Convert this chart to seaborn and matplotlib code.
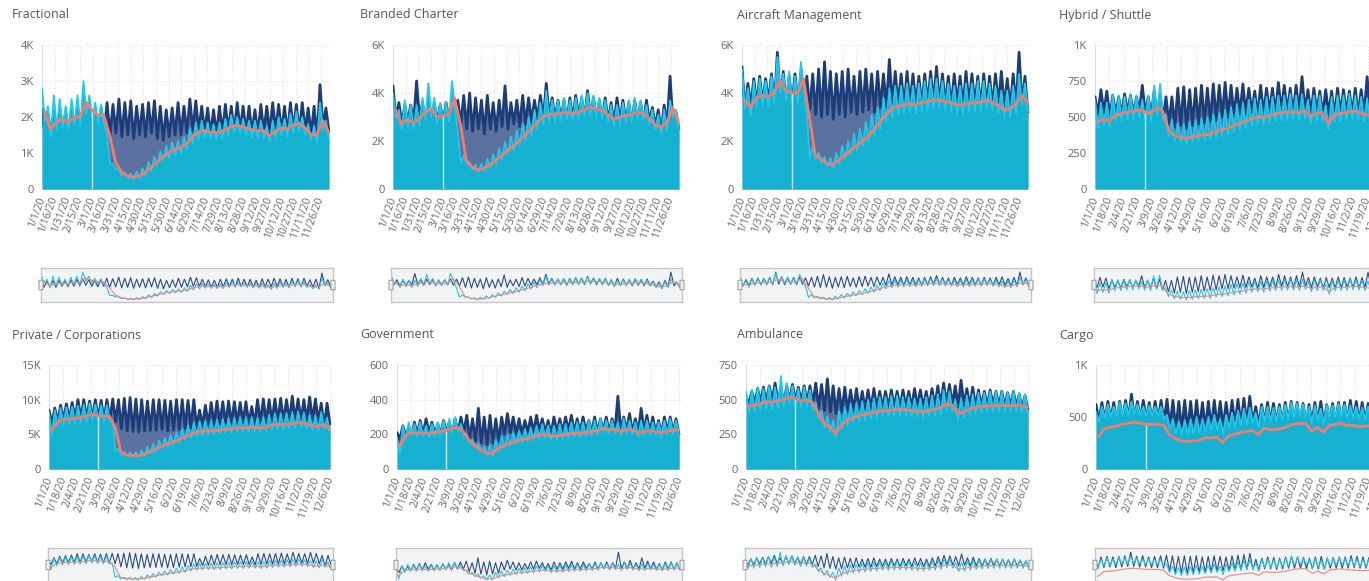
import datetime as dt

import numpy as np
import pandas as pd
import matplotlib
matplotlib.use('Agg')
import matplotlib.pyplot as plt
from matplotlib.patches import FancyBboxPatch
from matplotlib.ticker import FuncFormatter
import seaborn as sns

# ==================== DATA ====================
# weekly samples (week 0 = week of 1/1/20)
# *_hi = weekly peak, *_lo = weekly trough, *_avg = 2020 7-day average

frac_2019_hi = [2200, 2100, 2150, 2200, 2150, 2250, 2300, 2350, 2250, 2200,
                2250, 2400, 2350, 2500, 2400, 2450, 2300, 2350, 2400, 2450,
                2300, 2200, 2250, 2400, 2300, 2500, 2450, 2300, 2250, 2200,
                2300, 2350, 2300, 2400, 2300, 2300, 2200, 2350, 2300, 2400,
                2350, 2300, 2400, 2350, 2400, 2250, 2300, 2900, 2250]
frac_2019_lo = [1500, 1550, 1500, 1600, 1550, 1600, 1650, 1700, 1600, 1550,
                1600, 1500, 1550, 1450, 1500, 1400, 1500, 1450, 1550, 1400,
                1350, 1450, 1500, 1500, 1550, 1600, 1600, 1550, 1500, 1500,
                1550, 1600, 1550, 1600, 1550, 1550, 1500, 1550, 1550, 1600,
                1550, 1500, 1600, 1550, 1600, 1500, 1400, 1700, 1600]
frac_2020_hi = [2800, 2300, 2600, 2500, 2300, 2500, 2600, 3000, 2600, 2400,
                2350, 1500, 700, 550, 450, 420, 480, 580, 750, 900,
                1050, 1200, 1300, 1350, 1450, 1700, 1850, 1900, 1850, 1800,
                1850, 1950, 2050, 2000, 1950, 1900, 1900, 1900, 1750, 1900,
                2000, 1950, 2100, 2150, 2000, 1800, 1750, 2400, 1900]
frac_2020_lo = [1900, 1450, 1650, 1700, 1650, 1750, 1750, 2100, 1950, 1800,
                1800, 700, 550, 380, 300, 270, 300, 380, 500, 650,
                780, 870, 950, 1000, 1100, 1250, 1380, 1420, 1400, 1380,
                1400, 1480, 1550, 1550, 1500, 1450, 1420, 1420, 1300, 1400,
                1500, 1450, 1550, 1600, 1500, 1350, 1300, 1650, 1400]
frac_avg = [2150, 1650, 1850, 1950, 1850, 1980, 2000, 2400, 2200, 2050,
            2050, 1500, 750, 480, 370, 330, 370, 450, 600, 750,
            900, 1000, 1100, 1150, 1250, 1450, 1580, 1620, 1580, 1560,
            1600, 1680, 1760, 1750, 1700, 1650, 1620, 1620, 1480, 1600,
            1700, 1660, 1780, 1820, 1700, 1520, 1500, 1900, 1600]

branded_2019_hi = [4300, 3600, 3500, 3500, 4500, 3600, 3700, 3600, 3500, 3600,
                   3700, 3700, 3900, 4000, 3800, 3700, 3900, 3600, 3700, 4300,
                   3600, 3700, 3900, 3800, 3700, 3900, 4400, 3800, 3700, 3700,
                   3800, 3900, 3800, 4100, 3800, 3700, 3800, 3600, 3800, 3700,
                   3600, 3700, 3600, 3700, 3400, 3300, 3500, 4700, 3200]
branded_2019_lo = [2900, 2700, 2800, 2800, 2900, 2800, 2900, 2800, 2800, 2900,
                   2800, 2700, 2500, 2400, 2500, 2300, 2500, 2400, 2600, 2500,
                   2700, 2600, 2700, 2800, 2900, 2900, 3000, 2900, 2900, 2800,
                   2900, 3000, 2900, 3000, 2900, 2900, 2800, 2700, 2800, 2800,
                   2700, 2800, 2700, 2800, 2600, 2400, 2600, 2700, 2500]
branded_2020_hi = [4000, 3300, 3700, 3500, 3500, 3800, 4400, 3800, 3600, 3600,
                   4500, 2400, 1400, 1100, 1000, 1050, 1250, 1450, 1700, 1950,
                   2200, 2450, 2700, 3000, 3300, 3600, 4100, 3700, 3700, 3800,
                   3700, 3800, 3900, 4000, 3900, 3800, 3700, 3500, 3500, 3600,
                   3700, 3800, 3700, 3500, 3300, 3100, 3300, 3700, 3300]
branded_2020_lo = [2950, 2450, 2600, 2500, 2650, 2900, 3000, 2700, 2750, 2800,
                   3400, 1100, 1050, 800, 700, 750, 900, 1050, 1250, 1450,
                   1600, 1800, 2000, 2250, 2450, 2700, 2800, 2800, 2850, 2900,
                   2850, 2900, 3000, 3050, 3000, 2950, 2800, 2600, 2700, 2750,
                   2800, 2900, 2850, 2650, 2450, 2300, 2450, 3000, 2500]
branded_avg = [3300, 2700, 2900, 2750, 2950, 3200, 3350, 3000, 3050, 3100,
               3800, 2700, 1200, 900, 800, 850, 1000, 1200, 1400, 1600,
               1800, 2000, 2250, 2500, 2750, 3000, 3100, 3100, 3150, 3200,
               3150, 3200, 3300, 3400, 3350, 3300, 3100, 2900, 3000, 3050,
               3100, 3200, 3150, 2950, 2700, 2550, 2750, 3400, 2800]

aircraft_2019_hi = [5100, 4400, 4600, 4700, 4600, 4800, 5700, 4900, 4700, 4800,
                    4900, 4700, 4800, 5000, 5300, 4900, 4800, 4900, 5000, 4700,
                    4900, 5000, 4800, 4900, 4800, 5400, 4900, 4800, 4900, 4800,
                    4700, 4800, 4900, 5100, 4800, 4700, 4800, 4700, 4900, 4800,
                    4700, 4800, 4700, 4800, 4900, 4600, 4800, 5700, 4700]
aircraft_2019_lo = [3300, 3400, 3500, 3500, 3600, 3500, 3600, 3500, 3600, 3500,
                    3600, 3300, 3100, 3000, 3100, 2900, 3100, 3000, 3200, 3100,
                    3200, 3300, 3200, 3400, 3400, 3500, 3500, 3400, 3500, 3500,
                    3400, 3500, 3600, 3500, 3500, 3400, 3500, 3400, 3500, 3500,
                    3400, 3500, 3400, 3500, 3400, 3300, 3400, 3500, 3200]
aircraft_2020_hi = [5000, 4200, 4500, 4600, 4500, 4700, 5500, 4800, 4900, 4700,
                    5300, 3200, 1800, 1500, 1350, 1300, 1500, 1800, 2000, 2300,
                    2500, 2800, 3100, 3400, 3800, 4200, 4300, 4300, 4400, 4300,
                    4400, 4500, 4600, 4600, 4500, 4400, 4300, 4300, 4400, 4400,
                    4500, 4500, 4400, 4300, 4100, 4100, 4300, 4800, 4400]
aircraft_2020_lo = [3350, 3050, 3400, 3500, 3450, 3600, 4000, 3700, 3600, 3600,
                    4100, 1300, 1250, 1100, 950, 900, 1050, 1250, 1450, 1600,
                    1800, 2000, 2250, 2500, 2800, 3000, 3100, 3150, 3200, 3150,
                    3250, 3300, 3350, 3350, 3300, 3250, 3150, 3150, 3200, 3250,
                    3250, 3350, 3250, 3150, 3000, 3000, 3150, 3500, 3250]
aircraft_avg = [3700, 3400, 3800, 3900, 3850, 4000, 4500, 4100, 4000, 4000,
                4600, 3000, 1400, 1250, 1050, 1000, 1200, 1400, 1600, 1800,
                2000, 2200, 2500, 2800, 3100, 3350, 3450, 3500, 3550, 3500,
                3600, 3650, 3700, 3700, 3650, 3600, 3500, 3500, 3550, 3600,
                3600, 3700, 3600, 3500, 3300, 3350, 3500, 3900, 3600]

hybrid_2019_hi = [640, 690, 680, 650, 640, 660, 650, 640, 720, 640,
                  680, 660, 640, 640, 700, 710, 690, 700, 720, 700,
                  730, 720, 740, 720, 700, 730, 700, 680, 720, 700,
                  700, 740, 720, 700, 720, 780, 690, 700, 680, 690,
                  680, 700, 690, 680, 700, 690, 780, 700, 720]
hybrid_2019_lo = [520, 530, 500, 520, 510, 530, 520, 540, 520, 510,
                  500, 480, 450, 430, 440, 420, 440, 450, 460, 470,
                  480, 500, 500, 510, 520, 520, 530, 510, 520, 530,
                  520, 540, 530, 520, 530, 540, 520, 530, 510, 520,
                  510, 520, 530, 520, 510, 520, 540, 520, 530]
hybrid_2020_hi = [620, 600, 600, 660, 650, 640, 660, 650, 620, 650,
                  720, 730, 520, 480, 460, 450, 470, 480, 490, 500,
                  520, 530, 550, 570, 590, 600, 620, 630, 620, 640,
                  640, 650, 650, 660, 650, 660, 620, 650, 650, 580,
                  640, 650, 650, 660, 650, 640, 630, 660, 680]
hybrid_2020_lo = [420, 440, 425, 465, 470, 480, 485, 495, 480, 470,
                  510, 480, 370, 330, 325, 315, 325, 335, 340, 340,
                  360, 370, 380, 395, 410, 425, 440, 450, 445, 460,
                  470, 475, 480, 480, 475, 490, 455, 470, 475, 410,
                  465, 470, 475, 485, 480, 470, 460, 490, 505]
hybrid_avg = [465, 485, 470, 515, 520, 535, 540, 550, 535, 525,
              570, 540, 410, 370, 360, 350, 360, 370, 375, 380,
              400, 410, 420, 440, 455, 470, 490, 500, 495, 510,
              520, 530, 535, 535, 530, 545, 505, 525, 530, 455,
              515, 525, 530, 540, 535, 520, 510, 545, 560]

private_2019_hi = [8500, 8800, 9200, 9400, 9600, 10000, 10000, 9800, 10000, 9900,
                   10000, 10100, 10000, 10200, 10300, 10100, 10000, 9800, 10000, 10000,
                   9900, 9800, 10000, 10000, 9900, 10000, 8500, 9200, 9600, 9800,
                   9700, 9800, 9700, 9600, 9700, 9000, 10000, 10100, 10000, 10100,
                   10200, 10000, 10500, 10100, 10000, 10400, 10100, 9500, 9500]
private_2019_lo = [6500, 6800, 7000, 7100, 7200, 7200, 7300, 7300, 7200, 7100,
                   7000, 6800, 5800, 5500, 5400, 5300, 5500, 5600, 5600, 5700,
                   5500, 5600, 5700, 5800, 5900, 6000, 6200, 6300, 6400, 6500,
                   6500, 6500, 6600, 6600, 6500, 6400, 6600, 6700, 6700, 6800,
                   6800, 6900, 7000, 6900, 6900, 7000, 6800, 6000, 6500]
private_2020_hi = [8200, 8500, 8800, 8900, 9000, 9100, 9300, 9500, 9300, 9200,
                   9200, 7000, 3000, 2500, 2400, 2400, 2700, 3200, 3600, 4100,
                   4500, 4900, 5300, 5800, 6300, 6700, 6900, 7000, 7000, 7100,
                   7200, 7300, 7400, 7500, 7500, 7500, 7400, 7500, 7800, 8000,
                   8000, 8100, 8200, 8300, 8100, 7800, 7700, 8200, 7400]
private_2020_lo = [4900, 6100, 6400, 6500, 6600, 6700, 6800, 7100, 6900, 6800,
                   6800, 2500, 2000, 1900, 1750, 1700, 1900, 2250, 2600, 3000,
                   3250, 3500, 3800, 4150, 4500, 4750, 4850, 4950, 4950, 5050,
                   5150, 5200, 5300, 5300, 5400, 5400, 5300, 5400, 5650, 5750,
                   5750, 5850, 5950, 6050, 5850, 5600, 5500, 5750, 5200]
private_avg = [5500, 6800, 7100, 7200, 7300, 7400, 7600, 7900, 7700, 7600,
               7600, 6000, 2400, 2000, 1950, 1900, 2100, 2500, 2900, 3300,
               3600, 3900, 4200, 4600, 5000, 5300, 5400, 5500, 5500, 5600,
               5700, 5800, 5900, 5900, 6000, 6000, 5900, 6000, 6300, 6400,
               6400, 6500, 6600, 6700, 6500, 6200, 6100, 6400, 5800]

gov_2019_hi = [210, 250, 240, 270, 280, 290, 270, 260, 280, 270,
               290, 300, 310, 290, 350, 300, 310, 290, 300, 320,
               300, 290, 280, 300, 310, 290, 280, 300, 290, 300,
               310, 290, 300, 280, 300, 290, 300, 290, 420, 300,
               320, 290, 350, 310, 300, 280, 300, 300, 290]
gov_2019_lo = [170, 190, 190, 200, 200, 210, 200, 200, 210, 200,
               210, 210, 180, 160, 150, 140, 150, 160, 200, 210,
               200, 200, 210, 210, 220, 210, 200, 210, 210, 220,
               210, 210, 220, 210, 210, 220, 210, 220, 220, 220,
               210, 210, 220, 210, 210, 200, 210, 210, 200]
gov_2020_hi = [180, 250, 270, 260, 270, 250, 260, 270, 280, 290,
               300, 260, 200, 170, 150, 130, 140, 170, 190, 200,
               210, 220, 230, 240, 250, 260, 250, 250, 260, 260,
               270, 270, 270, 280, 280, 290, 280, 280, 270, 290,
               280, 270, 280, 280, 270, 270, 280, 290, 280]
gov_2020_lo = [90, 170, 195, 185, 190, 185, 190, 195, 200, 210,
               215, 195, 150, 120, 100, 80, 80, 105, 120, 135,
               145, 155, 160, 165, 175, 180, 170, 170, 175, 180,
               185, 185, 190, 195, 200, 210, 200, 205, 195, 205,
               200, 190, 195, 200, 195, 190, 195, 200, 200]
gov_avg = [130, 190, 215, 205, 210, 205, 210, 215, 220, 235,
           240, 215, 165, 135, 110, 90, 90, 120, 135, 150,
           160, 170, 175, 185, 195, 200, 190, 190, 195, 200,
           205, 205, 210, 215, 220, 235, 225, 230, 215, 230,
           225, 210, 215, 220, 215, 210, 215, 225, 225]

amb_2019_hi = [520, 560, 580, 590, 600, 620, 580, 600, 610, 590,
               600, 600, 620, 610, 650, 600, 580, 590, 570, 580,
               560, 570, 580, 560, 560, 570, 560, 570, 560, 580,
               570, 560, 580, 600, 620, 610, 600, 640, 580, 590,
               570, 560, 570, 560, 560, 550, 560, 540, 530]
amb_2019_lo = [470, 470, 480, 480, 490, 490, 480, 490, 490, 480,
               480, 470, 440, 420, 410, 400, 410, 420, 420, 430,
               430, 430, 440, 440, 440, 450, 440, 450, 440, 450,
               440, 440, 450, 460, 470, 460, 450, 460, 450, 450,
               450, 450, 460, 450, 450, 450, 450, 440, 430]
amb_2020_hi = [560, 570, 590, 580, 600, 590, 670, 620, 600, 580,
               590, 570, 480, 420, 380, 350, 420, 450, 470, 480,
               490, 500, 510, 520, 520, 530, 530, 520, 520, 510,
               510, 520, 530, 540, 570, 560, 500, 510, 530, 540,
               550, 550, 560, 560, 560, 550, 560, 550, 540]
amb_2020_lo = [405, 415, 425, 435, 430, 440, 450, 470, 460, 440,
               450, 430, 360, 300, 270, 230, 290, 315, 335, 345,
               355, 365, 370, 380, 380, 385, 385, 385, 380, 375,
               370, 380, 385, 395, 420, 415, 360, 370, 385, 395,
               405, 410, 410, 415, 415, 410, 415, 410, 400]
amb_avg = [450, 460, 470, 485, 480, 490, 500, 520, 510, 490,
           500, 480, 400, 330, 300, 255, 320, 350, 370, 385,
           395, 405, 410, 420, 420, 425, 430, 425, 420, 415,
           410, 420, 430, 440, 470, 460, 400, 410, 430, 440,
           450, 455, 455, 460, 460, 455, 460, 455, 445]

cargo_2019_hi = [620, 640, 650, 640, 650, 660, 720, 650, 660, 640,
                 650, 660, 670, 660, 650, 660, 650, 660, 640, 650,
                 660, 650, 640, 660, 670, 680, 700, 600, 620, 640,
                 630, 620, 640, 650, 640, 630, 620, 640, 650, 620,
                 630, 640, 640, 660, 650, 640, 630, 640, 620]
cargo_2019_lo = [450, 460, 470, 460, 470, 480, 480, 470, 470, 460,
                 460, 450, 400, 380, 370, 360, 370, 380, 380, 390,
                 400, 400, 410, 420, 420, 430, 430, 420, 440, 440,
                 430, 440, 450, 450, 450, 440, 440, 440, 430, 450,
                 450, 450, 450, 460, 450, 450, 440, 450, 440]
cargo_2020_hi = [550, 600, 620, 600, 640, 630, 650, 620, 600, 610,
                 600, 600, 520, 480, 460, 470, 480, 500, 480, 500,
                 520, 480, 520, 540, 560, 580, 590, 540, 600, 600,
                 590, 600, 620, 640, 630, 620, 600, 610, 580, 620,
                 610, 630, 620, 610, 600, 590, 600, 610, 600]
cargo_2020_lo = [450, 490, 500, 510, 520, 520, 530, 520, 510, 510,
                 510, 480, 380, 340, 330, 330, 340, 350, 360, 370,
                 380, 340, 390, 400, 420, 430, 440, 400, 460, 460,
                 460, 470, 480, 500, 510, 510, 440, 470, 430, 490,
                 500, 510, 490, 490, 480, 480, 490, 490, 480]
cargo_avg = [310, 390, 400, 410, 430, 440, 450, 440, 430, 430,
             430, 420, 330, 290, 270, 265, 270, 275, 300, 300,
             305, 255, 320, 335, 350, 360, 370, 330, 390, 380,
             380, 390, 410, 430, 440, 440, 365, 400, 355, 420,
             430, 440, 420, 420, 410, 410, 420, 420, 415]

titles = ['Fractional', 'Branded Charter', 'Aircraft Management', 'Hybrid / Shuttle',
          'Private / Corporations', 'Government', 'Ambulance', 'Cargo']
y_ticks = [[0, 1000, 2000, 3000, 4000], [0, 2000, 4000, 6000], [0, 2000, 4000, 6000],
           [0, 250, 500, 750, 1000], [0, 5000, 10000, 15000], [0, 200, 400, 600],
           [0, 250, 500, 750], [0, 500, 1000]]
label_every = [15, 15, 15, 17, 17, 17, 17, 17]   # days between date labels
leap_day = dt.date(2020, 2, 29)

series = [
    (frac_2019_hi, frac_2019_lo, frac_2020_hi, frac_2020_lo, frac_avg),
    (branded_2019_hi, branded_2019_lo, branded_2020_hi, branded_2020_lo, branded_avg),
    (aircraft_2019_hi, aircraft_2019_lo, aircraft_2020_hi, aircraft_2020_lo, aircraft_avg),
    (hybrid_2019_hi, hybrid_2019_lo, hybrid_2020_hi, hybrid_2020_lo, hybrid_avg),
    (private_2019_hi, private_2019_lo, private_2020_hi, private_2020_lo, private_avg),
    (gov_2019_hi, gov_2019_lo, gov_2020_hi, gov_2020_lo, gov_avg),
    (amb_2019_hi, amb_2019_lo, amb_2020_hi, amb_2020_lo, amb_avg),
    (cargo_2019_hi, cargo_2019_lo, cargo_2020_hi, cargo_2020_lo, cargo_avg),
]

# ==================== LAYOUT (pixels) ====================
W, H = 1369, 581
title_x = [12, 360, 737, 1059, 12, 360, 737, 1059]
main_x = [(42, 331), (393, 681), (742, 1030), (1095, 1384),
          (49, 332), (397, 681), (746, 1030), (1096, 1385)]
nav_x = [(41, 333), (391, 682), (740, 1031), (1094, 1385),
         (48, 333), (396, 682), (745, 1031), (1095, 1386)]
main_y = [(45, 189), (365, 469)]
nav_y = [(268, 302), (548, 582)]
title_y = [15, 335]

NAVY = '#1c3d78'
NAVY_FILL = '#5b72a0'
CYAN = '#22c8ea'
CYAN_FILL = '#16b1d1'
SALMON = '#f67b6e'
TEXT = '#666666'

START = dt.date(2020, 1, 1)
week = np.arange(49)
peak_day = 7 * week
trough_day = 7 * week + 3.5
avg_day = 7 * week + 3
X_END = 342


def px_axes(fig, x0, x1, y0, y1):
    return fig.add_axes([x0 / W, 1 - y1 / H, (x1 - x0) / W, (y1 - y0) / H])


def k_fmt(v, _pos):
    if v >= 1000:
        return f'{v / 1000:g}K'
    return f'{v:g}'


def date_label(day):
    d = START + dt.timedelta(days=int(day))
    return f'{d.month}/{d.day}/20'


def panel_frame(hi19, lo19, hi20, lo20, avg):
    x = np.column_stack([peak_day, trough_day]).ravel()
    frames = [
        pd.DataFrame({'day': x, 'flights': np.column_stack([hi19, lo19]).ravel(), 'series': '2019'}),
        pd.DataFrame({'day': x, 'flights': np.column_stack([hi20, lo20]).ravel(), 'series': '2020'}),
        pd.DataFrame({'day': avg_day, 'flights': avg, 'series': 'avg'}),
    ]
    return pd.concat(frames, ignore_index=True)


def draw_main(ax, df, i):
    d19 = df[df.series == '2019']
    d20 = df[df.series == '2020']
    dav = df[df.series == 'avg']

    ax.fill_between(d19.day, 0, d19.flights, color=NAVY_FILL, lw=0, zorder=2)
    sns.lineplot(data=d19, x='day', y='flights', color=NAVY, lw=2.0, ax=ax, zorder=3)
    ax.fill_between(d20.day, 0, d20.flights, color=CYAN_FILL, lw=0, zorder=4)
    sns.lineplot(data=d20, x='day', y='flights', color=CYAN, lw=1.3, ax=ax, zorder=5)
    leap = (leap_day - START).days
    ax.vlines(leap, 0, series[i][4][leap // 7], color='#bfe9f5', lw=1, zorder=6)
    sns.lineplot(data=dav, x='day', y='flights', color=SALMON, lw=2, ax=ax, zorder=7)

    ax.set_xlim(0, X_END)
    ax.set_ylim(0, y_ticks[i][-1])
    ax.set_yticks(y_ticks[i])
    ax.yaxis.set_major_formatter(FuncFormatter(k_fmt))
    xt = np.arange(0, X_END, label_every[i])
    ax.set_xticks(xt)
    ax.set_xticklabels([date_label(d) for d in xt])
    ax.set_xlabel('')
    ax.set_ylabel('')
    ax.tick_params(axis='both', length=0, labelsize=7.5, colors=TEXT)
    ax.tick_params(axis='x', pad=6)
    ax.tick_params(axis='y', pad=6, labelsize=8)
    for lab in ax.get_xticklabels():
        lab.set_rotation(70)
        lab.set_ha('right')
        lab.set_va('center')
        lab.set_rotation_mode('anchor')
    ax.grid(True, color='#e3e3e3', ls=':', lw=0.8)
    ax.set_axisbelow(True)
    for s in ['top', 'right', 'bottom']:
        ax.spines[s].set_visible(False)
    ax.spines['left'].set_color('#dddddd')
    ax.spines['left'].set_linewidth(0.8)


def draw_nav(ax, df):
    ax.set_facecolor('#f2f3f5')
    for name, col in [('2019', '#2b4b86'), ('2020', '#25c6e6'), ('avg', '#f4857a')]:
        sns.lineplot(data=df[df.series == name], x='day', y='flights',
                     color=col, lw=0.8, ax=ax)
    lo, hi = df.flights.min(), df.flights.max()
    span = hi - lo
    ax.set_ylim(lo - 0.08 * span, hi + 0.15 * span)
    ax.set_xlim(0, X_END)
    ax.set_xticks([])
    ax.set_yticks([])
    ax.set_xlabel('')
    ax.set_ylabel('')
    for s in ax.spines.values():
        s.set_color('#c6c6c6')
        s.set_linewidth(1)
    for xh in (0, 1):
        ax.add_patch(FancyBboxPatch((xh - 0.007, 0.36), 0.014, 0.28,
                                    boxstyle='round,pad=0,rounding_size=0.004',
                                    transform=ax.transAxes, clip_on=False,
                                    facecolor='#eeeeee', edgecolor='#999999',
                                    lw=0.7, zorder=10))


sns.set_theme(style='white')
plt.rcParams['font.family'] = ['Open Sans', 'DejaVu Sans']

fig = plt.figure(figsize=(W / 100, H / 100), dpi=100)
fig.patch.set_facecolor('white')

for i in range(8):
    row = i // 4
    df = panel_frame(*series[i])

    fig.text(title_x[i] / W, 1 - title_y[row] / H, titles[i],
             fontsize=9, color='#555555', ha='left', va='center')

    ax = px_axes(fig, *main_x[i], *main_y[row])
    draw_main(ax, df, i)

    nav = px_axes(fig, *nav_x[i], *nav_y[row])
    draw_nav(nav, df)

fig.savefig('out.png', dpi=100)
plt.close(fig)
